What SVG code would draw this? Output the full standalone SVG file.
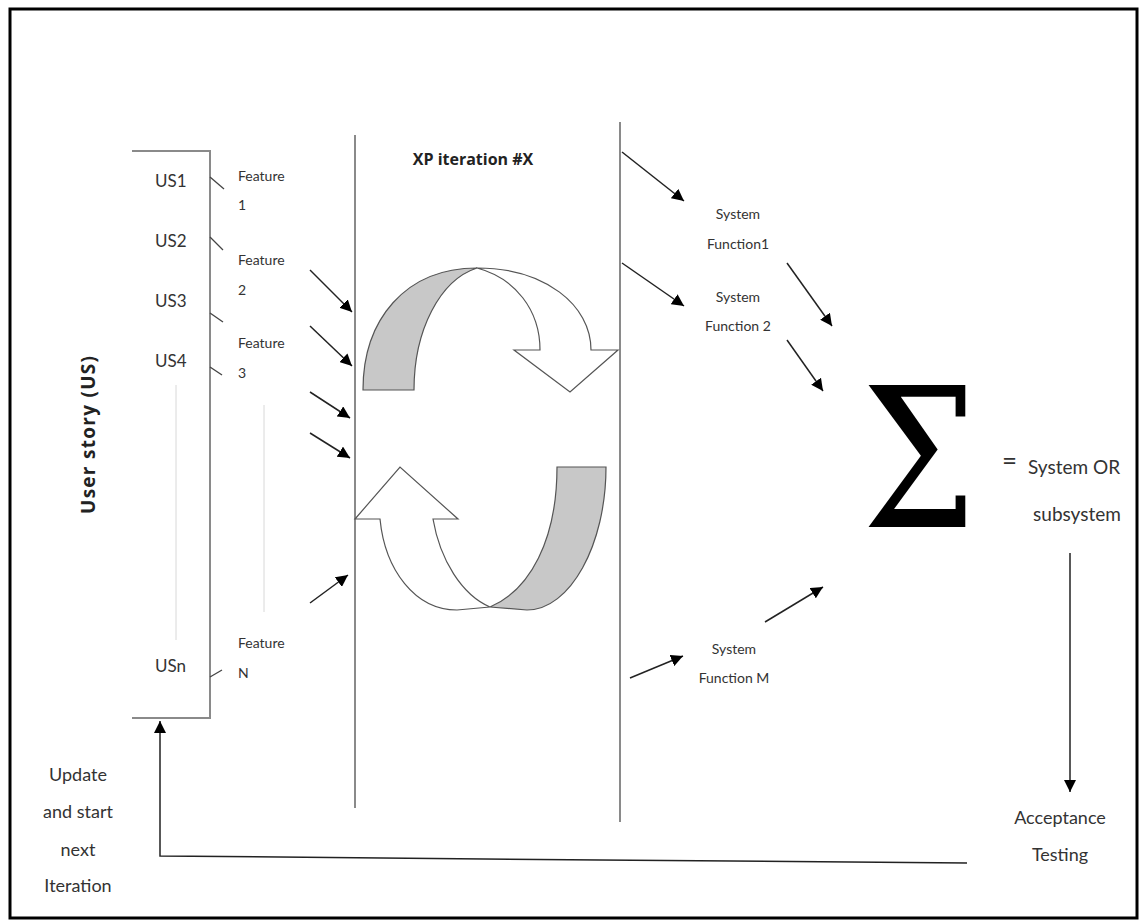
<svg xmlns="http://www.w3.org/2000/svg" width="1142" height="923" viewBox="0 0 1142 923">
<defs>
<marker id="ah" viewBox="0 0 10 10" refX="10" refY="5" markerWidth="12" markerHeight="12" markerUnits="userSpaceOnUse" orient="auto">
<path d="M0,0 L10,5 L0,10 Z" fill="#000"/>
</marker>
</defs>
<style>
.t{font-family:Lato,"Liberation Sans",sans-serif;fill:#333}
.b{font-family:"Open Sans","Liberation Sans",sans-serif;font-weight:bold;fill:#222}
.g{stroke:#8a8a8a;stroke-width:2;fill:none}
.f{stroke:#d8d8d8;stroke-width:1;fill:none}
.k{stroke:#444;stroke-width:1.3;fill:none}
.a{stroke:#222;stroke-width:1.5;fill:none;marker-end:url(#ah)}
.sh{stroke:#555;stroke-width:1.2}
</style>
<rect x="0" y="0" width="1142" height="923" fill="#fff"/>
<rect x="10" y="9" width="1127" height="909" fill="none" stroke="#000" stroke-width="3"/>

<g id="user-stories">
<path class="g" d="M132,151 H210 V718 H132"/>
<text class="b" font-size="19" transform="translate(95,435) rotate(-90)" text-anchor="middle" textLength="158" lengthAdjust="spacing">User story (US)</text>
<text class="t" font-size="17" x="155" y="187">US1</text>
<text class="t" font-size="17" x="155" y="247">US2</text>
<text class="t" font-size="17" x="155" y="307">US3</text>
<text class="t" font-size="17" x="155" y="367">US4</text>
<text class="t" font-size="17" x="155" y="672">USn</text>
<line class="f" x1="176" y1="385" x2="176" y2="640"/>
</g>

<g id="features">
<text class="t" font-size="14" x="238" y="181">Feature</text>
<text class="t" font-size="14" x="238" y="210">1</text>
<text class="t" font-size="14" x="238" y="265">Feature</text>
<text class="t" font-size="14" x="238" y="295">2</text>
<text class="t" font-size="14" x="238" y="348">Feature</text>
<text class="t" font-size="14" x="238" y="378">3</text>
<text class="t" font-size="14" x="238" y="648">Feature</text>
<text class="t" font-size="14" x="238" y="678">N</text>
<line class="f" x1="264" y1="405" x2="264" y2="612"/>
</g>

<g id="iteration">
<line class="g" x1="355" y1="135" x2="355" y2="808"/>
<line class="g" x1="620" y1="122" x2="620" y2="822"/>
<text class="b" font-size="16" x="473" y="165" text-anchor="middle">XP iteration #X</text>
<path class="sh" fill="#c8c8c8" d="M363,390 C363,320 405,268 477,268 C440,280 414,330 414,390 Z"/>
<path class="sh" fill="#fff" d="M477,268 C545,268 591,305 591,350 L618,350 L570,392 L514,350 L540,350 C540,310 515,278 477,268 Z"/>
<path class="sh" fill="#c8c8c8" d="M557,467 L606,467 C606,545 570,610 527,610 L490,607 C530,590 557,540 557,467 Z"/>
<path class="sh" fill="#fff" d="M490,607 L457,610 C415,610 385,570 380,519 L355,519 L400,467 L458,519 L433,519 C440,560 462,595 490,607 Z"/>
</g>

<g id="functions">
<text class="t" font-size="14" x="738" y="219" text-anchor="middle">System</text>
<text class="t" font-size="14" x="738" y="249" text-anchor="middle">Function1</text>
<text class="t" font-size="14" x="738" y="302" text-anchor="middle">System</text>
<text class="t" font-size="14" x="738" y="331" text-anchor="middle">Function 2</text>
<text class="t" font-size="14" x="734" y="654" text-anchor="middle">System</text>
<text class="t" font-size="14" x="734" y="683" text-anchor="middle">Function M</text>
</g>

<g id="sum">
<text transform="translate(919,527) scale(0.85,1.02)" x="0" y="0" font-family="'DejaVu Serif','Liberation Serif',serif" font-size="190" text-anchor="middle" fill="#000">Σ</text>
<text class="t" font-size="26" x="1002" y="470" fill="#222">=</text>
<text class="t" font-size="19" x="1028" y="474">System OR</text>
<text class="t" font-size="19" x="1077" y="521" text-anchor="middle">subsystem</text>
</g>

<g id="acceptance">
<text class="t" font-size="18" x="1060" y="824" text-anchor="middle">Acceptance</text>
<text class="t" font-size="18" x="1060" y="861" text-anchor="middle">Testing</text>
</g>

<g id="update">
<text class="t" font-size="18" x="78" y="781" text-anchor="middle">Update</text>
<text class="t" font-size="18" x="78" y="818" text-anchor="middle">and start</text>
<text class="t" font-size="18" x="78" y="856" text-anchor="middle">next</text>
<text class="t" font-size="18" x="78" y="892" text-anchor="middle">Iteration</text>
</g>

<g id="connectors">
<line class="k" x1="210" y1="177" x2="224" y2="189"/>
<line class="k" x1="210" y1="237" x2="223" y2="250"/>
<line class="k" x1="210" y1="313" x2="223" y2="322"/>
<line class="k" x1="210" y1="367" x2="222" y2="375"/>
<line class="k" x1="210" y1="677" x2="222" y2="670"/>
<line class="a" x1="310" y1="270" x2="352" y2="312"/>
<line class="a" x1="310" y1="326" x2="352" y2="366"/>
<line class="a" x1="310" y1="392" x2="350" y2="418"/>
<line class="a" x1="310" y1="433" x2="350" y2="458"/>
<line class="a" x1="310" y1="603" x2="348" y2="575"/>
<line class="a" x1="622" y1="152" x2="684" y2="201"/>
<line class="a" x1="622" y1="263" x2="684" y2="306"/>
<line class="a" x1="787" y1="263" x2="832" y2="326"/>
<line class="a" x1="787" y1="340" x2="823" y2="391"/>
<line class="a" x1="630" y1="678" x2="683" y2="656"/>
<line class="a" x1="765" y1="622" x2="823" y2="587"/>
<line class="a" x1="1070" y1="553" x2="1070" y2="792"/>
<path class="a" d="M967,863 L600,860 L160,856 V721"/>
</g>
</svg>
